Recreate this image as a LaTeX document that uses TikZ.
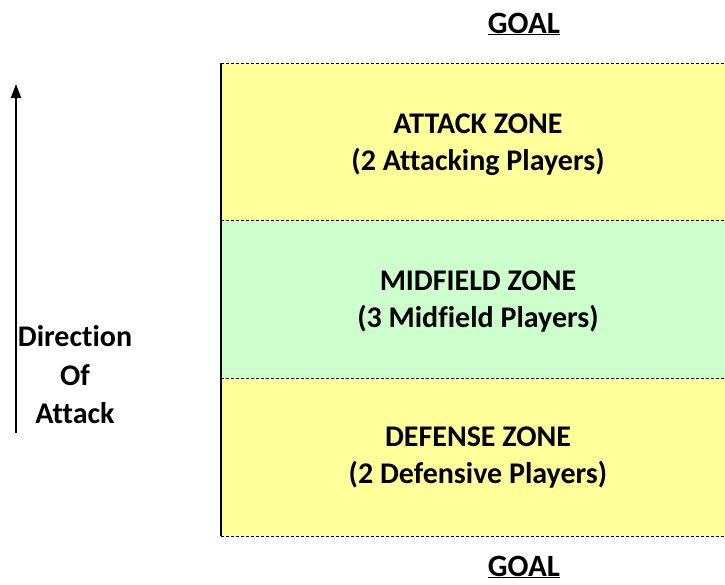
\documentclass[tikz,border=0pt]{standalone}
\usepackage{fontspec}
\setmainfont{Carlito}[Ligatures={NoCommon}]
\usetikzlibrary{arrows.meta}
\definecolor{zoneyellow}{HTML}{FFFF99}
\definecolor{zonegreen}{HTML}{CCFFCC}
\tikzset{
  zonetext/.style={font=\bfseries\fontsize{30}{37}\selectfont,align=center},
  goaltext/.style={font=\bfseries\fontsize{31}{37}\selectfont,inner sep=1pt},
  zoneline/.style={densely dashed,line width=0.8pt}
}
\begin{document}
\begin{tikzpicture}[x=1pt,y=-1pt]

\useasboundingbox (0,0) rectangle (725,584) ;

% zones
\fill[zoneyellow] (221,63) rectangle (725,220) ;
\fill[zonegreen] (221,220) rectangle (725,378) ;
\fill[zoneyellow] (221,378) rectangle (725,536) ;

\draw[zoneline] (221,63) -- (725,63) ;
\draw[zoneline] (221,220) -- (725,220) ;
\draw[zoneline] (221,378) -- (725,378) ;
\draw[zoneline] (221,536) -- (725,536) ;
\draw[line width=2pt] (221,63) -- (221,536) ;

\node[zonetext] (attack) at (478,145) {ATTACK ZONE\\(2 Attacking Players)} ;
\node[zonetext] (mid) at (478,302) {MIDFIELD ZONE\\(3 Midfield Players)} ;
\node[zonetext] (defense) at (478,458) {DEFENSE ZONE\\(2 Defensive Players)} ;

\node[goaltext] (goaltop) at (524,24) {\underline{GOAL}} ;
\node[goaltext] (goalbot) at (524,567) {\underline{GOAL}} ;

% direction of attack
\coordinate (arrbot) at (16,433) ;
\coordinate (arrtop) at (16,84) ;
\draw[-{Triangle[width=10pt,length=14pt]},line width=2pt] (arrbot) -- (arrtop) ;
\node[zonetext,font=\bfseries\fontsize{30}{38.5}\selectfont] (dir) at (75,375) {Direction\\Of\\Attack} ;

\end{tikzpicture}
\end{document}
